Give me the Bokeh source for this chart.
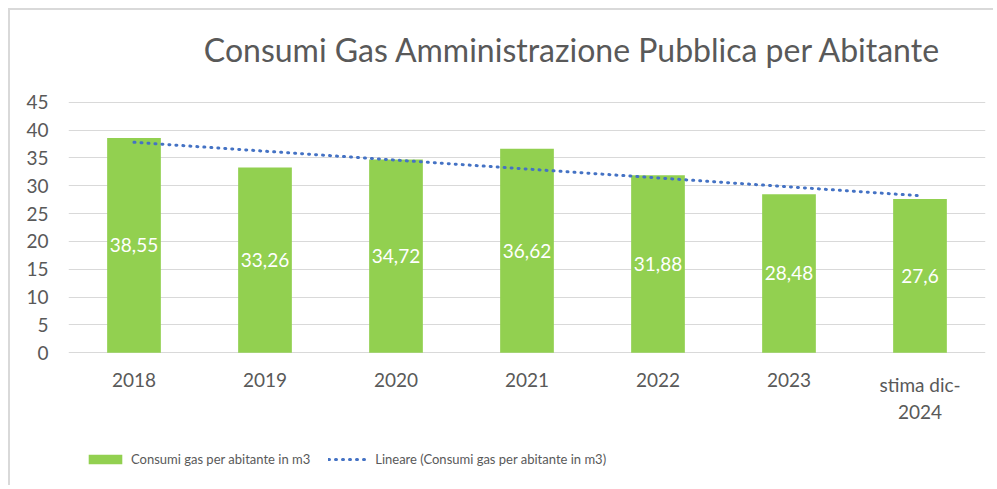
from bokeh.plotting import figure
from bokeh.models import ColumnDataSource, Legend, LegendItem, FixedTicker, Label
from bokeh.core.properties import value
from bokeh.embed import file_html
from bokeh.resources import INLINE

# ---- data ----
categories = ["2018", "2019", "2020", "2021", "2022", "2023", "stima dic-\n2024"]
consumi = [38.55, 33.26, 34.72, 36.62, 31.88, 28.48, 27.6]
trend_x = ["2018", "stima dic-\n2024"]
trend_y = [37.8, 28.2]
y_ticks = [0, 5, 10, 15, 20, 25, 30, 35, 40, 45]
title_text = "Consumi Gas Amministrazione Pubblica per Abitante"
bar_label = "Consumi gas per abitante in m3"
trend_label = "Lineare (Consumi gas per abitante in m3)"

FONT = "Lato"
TXT = "#595959"
GRID = "#d9d9d9"
GREEN = "#92D050"
BLUE = "#4472C4"

# ---- layout (pixels) ----
W, H = 985, 477            # figure size (placed at page 10,10 after margin+border)
FRAME_TOP = 10             # page y of the frame top
FRAME_BOTTOM = 487         # page y of the frame bottom
PX45, PX0 = 101.7, 352.3   # page y of the 45 and 0 gridlines
scale = (PX0 - PX45) / 45.0
y_top = 45 + (PX45 - FRAME_TOP) / scale
y_bot = -(FRAME_BOTTOM - PX0) / scale

labels = [f"{v:g}".replace(".", ",") for v in consumi]
src = ColumnDataSource(dict(x=categories, top=consumi, mid=[v / 2 for v in consumi], lab=labels))
tick_src = ColumnDataSource(dict(x=categories, y=[-(372 - PX0) / scale] * len(categories), t=categories))

p = figure(x_range=categories, y_range=(y_bot, y_top), width=W, height=H,
           output_backend="svg", toolbar_location=None,
           min_border_left=58, min_border_right=10, min_border_top=0, min_border_bottom=0)
p.styles = {"margin": "8px 0px 0px 8px",
            "border-left": "2px solid #d9d9d9", "border-top": "2px solid #d9d9d9"}
if p.title is not None:
    p.title.visible = False

bars = p.vbar(x="x", top="top", bottom=0, width=0.41, source=src, fill_color=GREEN, line_color=None)
p.text(x="x", y="mid", text="lab", source=src, text_color="white", text_font=value(FONT),
       text_font_size="19px", text_align="center", text_baseline="middle")

trend = p.line(x=trend_x, y=trend_y, line_color=BLUE, line_width=3,
               line_dash="1 6", line_cap="round")

# category labels under the zero line
p.text(x="x", y="y", text="t", source=tick_src, text_color=TXT, text_font=value(FONT),
       text_font_size="19px", text_align="center", text_baseline="top", text_line_height=1.2)

# chart title
p.add_layout(Label(x=3.85, y=45 + (PX45 - 49) / scale, text=title_text, text_align="center",
                   text_baseline="alphabetic", text_font=FONT, text_font_size="32px",
                   text_color=TXT))

p.outline_line_color = None
p.xgrid.grid_line_color = None
p.ygrid.grid_line_color = GRID
p.ygrid.grid_line_width = 1
p.yaxis.ticker = FixedTicker(ticks=y_ticks)
p.yaxis.axis_line_color = None
p.yaxis.major_tick_line_color = None
p.yaxis.minor_tick_line_color = None
p.yaxis.major_label_standoff = 14
p.yaxis.major_label_text_font = FONT
p.yaxis.major_label_text_font_size = "19px"
p.yaxis.major_label_text_color = TXT
p.xaxis.visible = False

legend = Legend(items=[LegendItem(label=bar_label, renderers=[bars]),
                       LegendItem(label=trend_label, renderers=[trend])],
                orientation="horizontal", location=(16, 20),
                glyph_width=42, glyph_height=12, label_standoff=5, spacing=18,
                padding=0, margin=0, border_line_color=None, background_fill_alpha=0,
                label_text_font=FONT, label_text_font_size="13px", label_text_color=TXT)
p.add_layout(legend, "center")

open("out.html", "w").write(file_html(p, INLINE))
